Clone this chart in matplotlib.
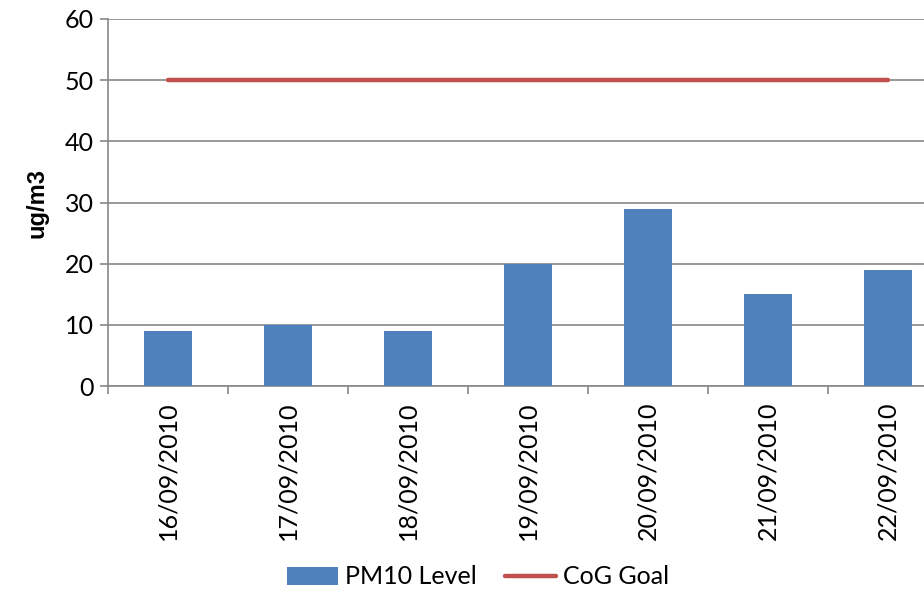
import matplotlib
matplotlib.use("Agg")
from matplotlib import pyplot as plt
import numpy as np

dates = ["16/09/2010", "17/09/2010", "18/09/2010", "19/09/2010",
         "20/09/2010", "21/09/2010", "22/09/2010"]
pm10 = [9, 10, 9, 20, 29, 15, 19]
goal = [50, 50, 50, 50, 50, 50, 50]

plt.rcParams['font.family'] = ['Lato', 'DejaVu Sans']

fig = plt.figure(figsize=(9.24, 5.94), dpi=100)
# plot area runs past the right edge, as in the reference
ax = fig.add_axes([108/924, 1-386/594, 840/924, 367/594])

x = np.arange(len(dates))
bars = ax.bar(x, pm10, width=0.4, color="#4F81BD", label="PM10 Level", zorder=3)
line, = ax.plot(x, goal, color="#C0504D", lw=3.2, solid_capstyle="round",
                label="CoG Goal", zorder=4)

ax.set_xlim(-0.5, len(dates)-0.5)
ax.set_ylim(0, 60)
ax.set_yticks(range(0, 61, 10))
ax.yaxis.grid(True, color="#878787", lw=1.2)
ax.set_axisbelow(True)

ax.set_xticks(np.arange(-0.5, len(dates), 1))
ax.set_xticklabels([])
ax.set_xticks(x, minor=True)
ax.set_xticklabels(dates, minor=True, rotation=90, fontsize=18)
ax.tick_params(axis="x", which="minor", length=0, pad=11)
ax.tick_params(axis="x", which="major", length=6, color="#878787", width=1.2)
ax.tick_params(axis="y", length=6, color="#878787", width=1.2, labelsize=18, pad=4)

for s in ["top", "right"]:
    ax.spines[s].set_visible(False)
for s in ["left", "bottom"]:
    ax.spines[s].set_color("#878787")
    ax.spines[s].set_linewidth(1.2)

ax.set_ylabel("ug/m3", fontsize=17, fontweight="bold",
              family="Liberation Sans", labelpad=12)

fig.legend([bars, line], ["PM10 Level", "CoG Goal"], loc="center",
           bbox_to_anchor=(478/924, 1-577/594), ncol=2,
           frameon=False, fontsize=18, handlelength=2.05, columnspacing=1.1,
           handletextpad=0.3)

fig.savefig("out.png", dpi=100)
